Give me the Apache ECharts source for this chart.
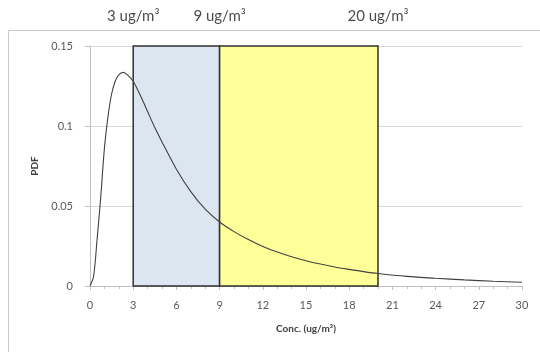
<!DOCTYPE html>
<html><head><meta charset="utf-8">
<script src="https://cdn.jsdelivr.net/npm/echarts@6/dist/echarts.min.js"></script>
<style>html,body{margin:0;padding:0;background:#fff}#c{width:540px;height:352px}</style>
</head><body><div id="c"></div>
<script>
var concX = [0,0.25,0.5,0.75,1,1.25,1.5,1.75,2,2.3,2.6,3,3.5,4,4.5,5,6,7,8,9,10,11,12,13,14,15,16,17,18,19,20,22,24,26,28,30];
var pdfY  = [0,0.006,0.03,0.056,0.086,0.106,0.12,0.128,0.132,0.1335,0.132,0.128,0.119,0.109,0.099,0.09,0.073,0.059,0.048,0.040,0.034,0.029,0.0247,0.0212,0.0183,0.0158,0.0137,0.0119,0.0104,0.009,0.0078,0.006,0.0048,0.0038,0.003,0.0023];
var bandEdges = [3, 9, 20];
var bandTop = 0.15;
var bandLabels = ['3 ug/m³', '9 ug/m³', '20 ug/m³'];
var xTicks = [0,3,6,9,12,15,18,21,24,27,30];
var yTicks = [0,0.05,0.1,0.15];

var chart = echarts.init(document.getElementById('c'));
var font = 'Lato, "Open Sans", sans-serif';
var data = concX.map(function(x,i){return [x,pdfY[i]];});
var option = {
  animation:false,
  grid:{left:90,right:18,top:46,bottom:66},
  xAxis:{type:'value',min:0,max:30,interval:3,
    name:'Conc. (ug/m³)',nameLocation:'middle',nameGap:38,
    nameTextStyle:{fontFamily:font,fontSize:10,fontWeight:'bold',color:'#404040'},
    axisLine:{lineStyle:{color:'#bfbfbf',width:1}},
    axisTick:{show:true,length:4,lineStyle:{color:'#bfbfbf'}},
    minorTick:{show:true,splitNumber:3,length:3,lineStyle:{color:'#bfbfbf'}},
    axisLabel:{fontFamily:font,fontSize:11,color:'#595959',margin:14},
    splitLine:{show:false}},
  yAxis:{type:'value',min:0,max:0.15,interval:0.05,
    name:'PDF',nameLocation:'middle',nameGap:50,
    nameTextStyle:{fontFamily:font,fontSize:10,fontWeight:'bold',color:'#404040'},
    axisLine:{show:true,lineStyle:{color:'#bfbfbf',width:1}},
    axisTick:{show:true,length:5,lineStyle:{color:'#bfbfbf'}},
    axisLabel:{fontFamily:font,fontSize:11,color:'#595959',margin:17,
      formatter:function(v){return String(+v.toFixed(2));}},
    splitLine:{show:true,lineStyle:{color:'#d9d9d9',width:1}}},
  graphic:[{type:'rect',shape:{x:8.5,y:30.5,width:560,height:360},style:{fill:'none',stroke:'#c8c8c8',lineWidth:1},silent:true}],
  series:[
    {type:'line',z:1,data:[],
     markArea:{silent:true,
       data:[
        [{xAxis:bandEdges[0],yAxis:0,itemStyle:{color:'#dce6f1',borderColor:'#303030',borderWidth:1.5}},{xAxis:bandEdges[1],yAxis:bandTop}],
        [{xAxis:bandEdges[1],yAxis:0,itemStyle:{color:'#ffff99',borderColor:'#303030',borderWidth:1.5}},{xAxis:bandEdges[2],yAxis:bandTop}]
       ]}},
    {type:'line',z:5,data:data,smooth:0.3,showSymbol:false,
     lineStyle:{color:'#404040',width:1.1}},
    {type:'scatter',z:6,symbolSize:0,silent:true,
     data:bandEdges.map(function(x,i){return {value:[x,bandTop],label:{show:true,formatter:bandLabels[i]}};}),
     label:{position:'top',distance:22,fontFamily:'Lato, sans-serif',fontSize:15,color:'#1a1a1a'}}
  ]
};
chart.setOption(option);
</script></body></html>
